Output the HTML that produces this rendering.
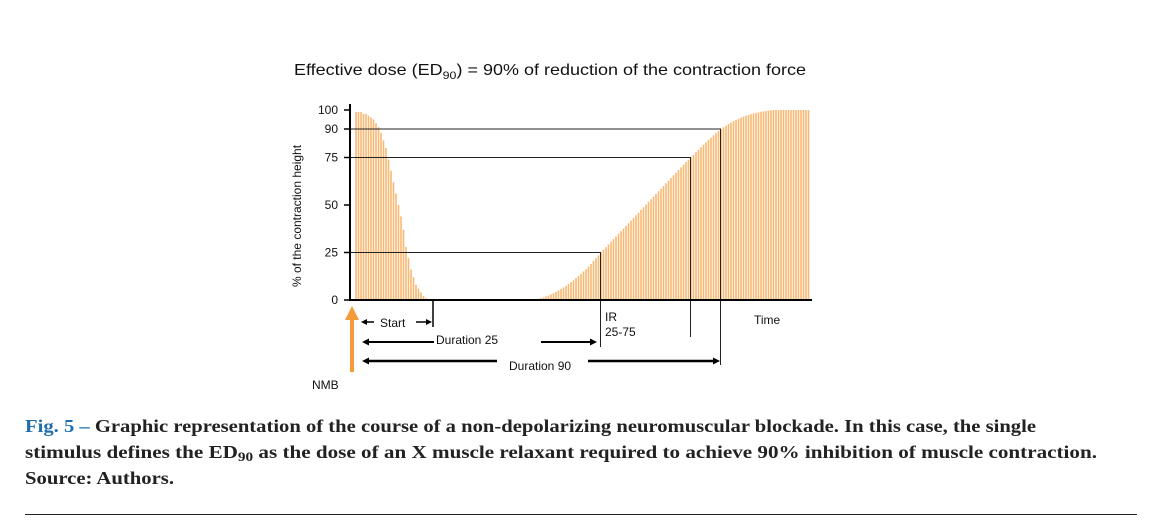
<!DOCTYPE html>
<html><head><meta charset="utf-8"><style>
html,body{margin:0;padding:0;background:#fff;}
svg{display:block;font-family:"Liberation Sans",sans-serif;}
.cap{font-family:"Liberation Serif",serif;font-weight:bold;font-size:18px;fill:#222;}
</style></head><body>
<svg id="fig" width="1157" height="529" viewBox="0 0 1157 529" xmlns="http://www.w3.org/2000/svg">
<text x="294" y="75" font-size="16" fill="#111" textLength="512" lengthAdjust="spacingAndGlyphs">Effective dose (ED<tspan font-size="11" dy="4">90</tspan><tspan dy="-4">) = 90% of reduction of the contraction force</tspan></text>
<text transform="translate(301,216) rotate(-90)" text-anchor="middle" font-size="12" fill="#111">% of the contraction height</text>
<g id="bars"></g>
<g id="refs"></g>
<g id="axes"></g>
<g font-size="12" fill="#111">
<line x1="433" y1="300" x2="433" y2="327" stroke="#000" stroke-width="1.5"/>
<line x1="364" y1="322" x2="374" y2="322" stroke="#000" stroke-width="1.5"/><path d="M361,322 l6,-3 v6z" fill="#000"/>
<text x="380" y="327">Start</text>
<line x1="416" y1="322" x2="428" y2="322" stroke="#000" stroke-width="1.5"/><path d="M432,322 l-6,-3 v6z" fill="#000"/>
<line x1="366" y1="342" x2="434" y2="342" stroke="#000" stroke-width="2"/><path d="M362,342 l7,-3.5 v7z" fill="#000"/>
<text x="436" y="344">Duration 25</text>
<line x1="541" y1="342" x2="592" y2="342" stroke="#000" stroke-width="2"/><path d="M597,342 l-7,-3.5 v7z" fill="#000"/>
<line x1="366" y1="361" x2="497" y2="361" stroke="#000" stroke-width="2.5"/><path d="M362,361 l7,-3.5 v7z" fill="#000"/>
<text x="509" y="370">Duration 90</text>
<line x1="588" y1="361" x2="714" y2="361" stroke="#000" stroke-width="2.5"/><path d="M720,361 l-7,-3.5 v7z" fill="#000"/>
<text x="605" y="321">IR</text>
<text x="605" y="336">25-75</text>
<text x="754" y="324">Time</text>
<text x="312" y="389">NMB</text>
<path d="M352,306 l7,14 h-5 v52 h-4 v-52 h-5z" fill="#f59a3a"/>
</g>
<g>
<text class="cap" x="25" y="432" textLength="1011" lengthAdjust="spacingAndGlyphs"><tspan fill="#1f6fb0">Fig. 5 –</tspan> Graphic representation of the course of a non-depolarizing neuromuscular blockade. In this case, the single</text>
<text class="cap" x="25" y="458" textLength="1072" lengthAdjust="spacingAndGlyphs">stimulus defines the ED<tspan font-size="13" dy="3">90</tspan><tspan dy="-3"> as the dose of an X muscle relaxant required to achieve 90% inhibition of muscle contraction.</tspan></text>
<text class="cap" x="25" y="484" textLength="149" lengthAdjust="spacingAndGlyphs">Source: Authors.</text>
</g>
<line x1="25" y1="514.5" x2="1137" y2="514.5" stroke="#222" stroke-width="1"/>
</svg>
<script>
const decay = [99,99,99,98,98,97,96,95,93,91,88,84,80,74,68,62,56,50,44,37,28,22,16,12,8,6,4,2,1,0.5];
const trough = [0,0,0,0,0,0,0,0,0,0,0,0,0,0,0,0,0,0,0,0,0,0,0,0,0,0,0,0,0,0,0,0,0,0,0,0,0,0,0,0,0,0,0];
const recovery = [0.6,1,1.4,1.9,2.4,3,3.6,4.3,5,5.8,6.6,7.5,8.4,9.4,10.4,11.5,12.6,13.8,15,16.3,17.6,19,20.5,22,23.5,25,
 26.4,27.8,29.2,30.6,32,33.4,34.8,36.2,37.6,39,40.4,41.8,43.2,44.6,46,47.4,48.8,50.2,51.6,53,54.4,55.8,57.2,58.6,60,61.4,62.8,64.2,65.6,67,68.4,69.8,71.2,72.6,73.8,75,
 76.4,77.8,79.1,80.4,81.7,83,84.3,85.5,86.7,87.8,88.9,90,
 90.9,91.8,92.6,93.4,94.1,94.8,95.4,96,96.5,97,97.4,97.8,98.2,98.5,98.8,99.1,99.3,99.5,99.7,99.9,
 100,100,100,100,100,100,100,100,100,100,100,100,100,100,100];
const yTicks = [0,25,50,75,90,100];
const refLevels = [25,75,90];
const refIndex = [98,134,146];
const refDrop = [347,337,365];

const values = decay.concat(trough, recovery);
const NS = "http://www.w3.org/2000/svg";
const x = i => 356 + i * 2.5;
const y = v => 300 - v * 1.9;
function mk(tag, attrs, parent){const e=document.createElementNS(NS,tag);for(const k in attrs)e.setAttribute(k,attrs[k]);parent.appendChild(e);return e;}
const bars=document.getElementById('bars');
values.forEach((v,i)=>{
  const r=mk('rect',{x:x(i)-0.8,y:y(v),width:1.6,height:300-y(v),fill:'#f8b872'},bars);
  
  
});
const refs=document.getElementById('refs');
refLevels.forEach((lv,k)=>{
  const xe=x(refIndex[k])-0.5;
  const l=mk('polyline',{points:`350,${y(lv)} ${xe},${y(lv)} ${xe},${refDrop[k]}`,fill:'none',stroke:'#222','stroke-width':1},refs);
  
  
});
const axes=document.getElementById('axes');
mk('line',{x1:350,y1:104,x2:350,y2:300,stroke:'#000','stroke-width':2},axes);
mk('line',{x1:349,y1:300,x2:812,y2:300,stroke:'#000','stroke-width':2},axes);
yTicks.forEach(t=>{
  mk('line',{x1:344,y1:y(t),x2:350,y2:y(t),stroke:'#000','stroke-width':1.5},axes);
  const tx=mk('text',{x:338,y:y(t)+4,'text-anchor':'end','font-size':12,fill:'#111'},axes);
  tx.textContent=t;
  
  
});
</script>
</body></html>
